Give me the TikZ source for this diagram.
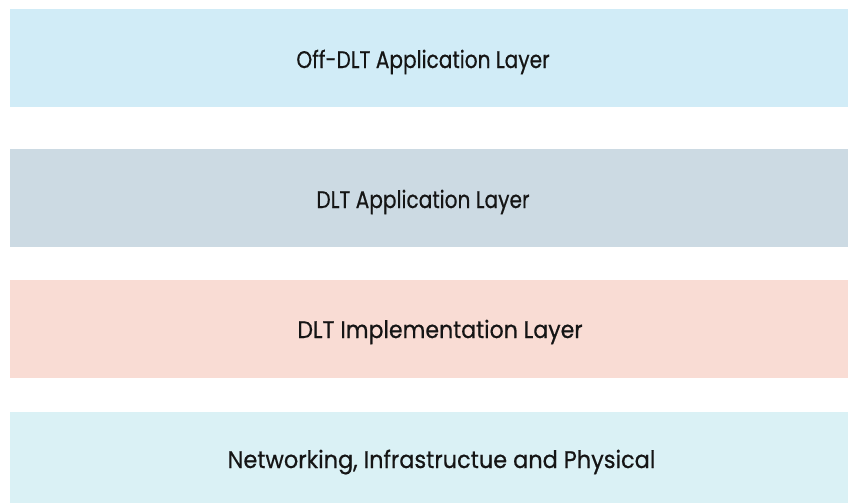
\documentclass[tikz,border=0pt]{standalone}
\usepackage{fontspec}
\setmainfont{Poppins}[FakeBold=0.6]
\definecolor{bandA}{HTML}{D1ECF7}
\definecolor{bandB}{HTML}{CCDAE3}
\definecolor{bandC}{HTML}{F9DCD4}
\definecolor{bandD}{HTML}{DAF1F5}
\definecolor{txt}{HTML}{151515}
\begin{document}
\begin{tikzpicture}[x=1pt,y=-1pt,
  label/.style={anchor=base,text=txt,font=\fontsize{24}{28}\selectfont,inner sep=0pt}]
\useasboundingbox (0,0) rectangle (848,503);
\fill[bandA] (10,9) rectangle (848,107);
\fill[bandB] (10,149) rectangle (848,247);
\fill[bandC] (10,280) rectangle (848,378);
\fill[bandD] (10,412) rectangle (848,503);
\node[label] (l1) at (423,68) {\scalebox{0.84}[1]{Off-DLT Application Layer}};
\node[label] (l2) at (423,208) {\scalebox{0.84}[1]{DLT Application Layer}};
\node[label] (l3) at (440,338) {\scalebox{0.92}[1]{DLT Implementation Layer}};
\node[label] (l4) at (441.5,468) {\scalebox{0.935}[1]{Networking, Infrastructue and Physical}};
\end{tikzpicture}
\end{document}
